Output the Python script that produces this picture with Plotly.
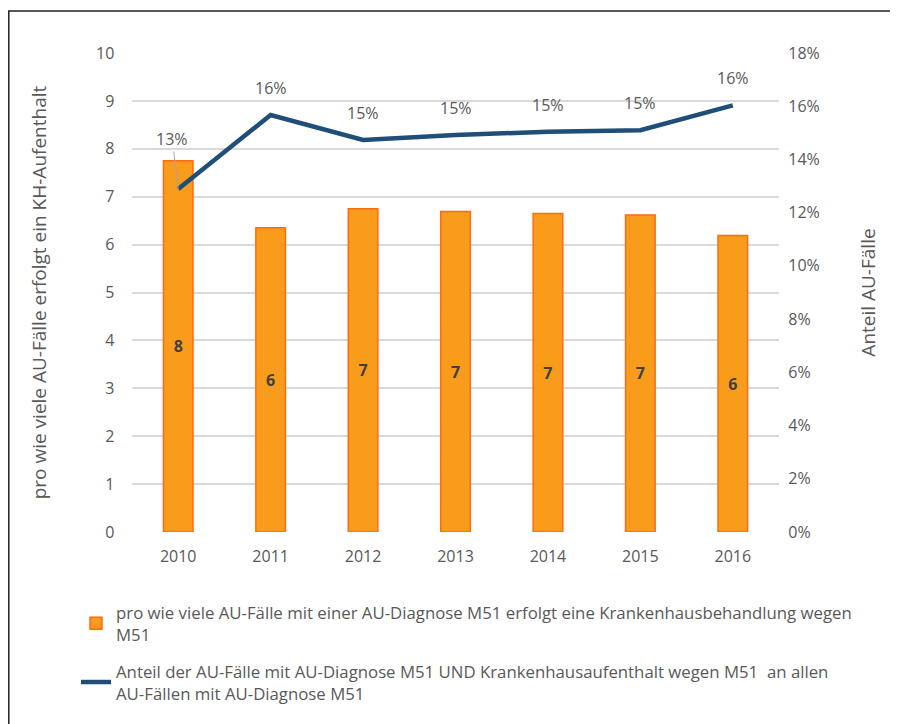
import plotly.graph_objects as go

years = ["2010", "2011", "2012", "2013", "2014", "2015", "2016"]
faelle_pro_kh = [7.75, 6.35, 6.75, 6.69, 6.65, 6.62, 6.19]
anteil_kh = [0.1289, 0.1567, 0.1473, 0.1492, 0.1504, 0.1510, 0.1603]

bar_name = "pro wie viele AU-Fälle mit einer AU-Diagnose M51 erfolgt eine Krankenhausbehandlung wegen<br>M51"
line_name = "Anteil der AU-Fälle mit AU-Diagnose M51 UND Krankenhausaufenthalt wegen M51  an allen<br>AU-Fällen mit AU-Diagnose M51"
y1_title = "pro wie viele AU-Fälle erfolgt ein KH-Aufenthalt"
y2_title = "Anteil AU-Fälle"

FONT = "Open Sans"
GREY = "#595959"
# page body has an 8px margin: the figure is shifted by (8, 8)
OFF = 8
W, H = 898 - OFF, 724 - OFF
L, R, T, B = 132 - OFF, 127 - OFF, 53 - OFF, 192
pw, ph = W - L - R, H - T - B

fig = go.Figure()
fig.add_trace(go.Bar(
    x=years, y=faelle_pro_kh, name=bar_name, legendgroup="bars",
    marker=dict(color="#F99C1C", line=dict(color="#FF6A13", width=1.5)),
    texttemplate="<b>%{y:.0f}</b>", textposition="inside", insidetextanchor="middle",
    textfont=dict(family=FONT, size=16, color="#404040"),
    yaxis="y",
))
fig.add_trace(go.Scatter(
    x=years, y=anteil_kh, name=line_name, mode="lines", legendgroup="line",
    line=dict(color="#1F4E79", width=4.5),
    yaxis="y2",
))

# line data labels (category index positions on the x axis)
for i, v in enumerate(anteil_kh):
    if i == 0:
        fig.add_annotation(x=i, y=v, xref="x", yref="y2", text=f"{v*100:.0f}%", showarrow=True,
                           arrowhead=0, arrowwidth=1, arrowcolor="#A6A6A6", ax=-6, ay=-50,
                           font=dict(family=FONT, size=16, color=GREY), standoff=0, startstandoff=0)
    else:
        fig.add_annotation(x=i, y=v, xref="x", yref="y2", text=f"{v*100:.0f}%", showarrow=False,
                           yshift=27, font=dict(family=FONT, size=16, color=GREY))

# outer chart border
fig.add_shape(type="rect", xref="paper", yref="paper",
              x0=(0.8 - L) / pw, x1=1.6, y0=-1.0, y1=(H - B - (11 - OFF)) / ph,
              line=dict(color="#222222", width=1.5), fillcolor="rgba(0,0,0,0)", layer="below")

fig.update_layout(
    width=W, height=H,
    margin=dict(l=L, r=R, t=T, b=B, autoexpand=False),
    paper_bgcolor="white", plot_bgcolor="white",
    font=dict(family=FONT, size=16, color=GREY),
    bargap=0.68,
    showlegend=True,
    legend=dict(x=(76 - OFF - L) / pw, y=(H - B - (595 - OFF)) / ph,
                xanchor="left", yanchor="top", orientation="v",
                font=dict(family=FONT, size=16.8, color=GREY),
                tracegroupgap=12, bgcolor="rgba(0,0,0,0)"),
    xaxis=dict(type="category", range=[-0.5, 6.5], autorange=False, showgrid=False,
               showline=False, ticks="", ticklabelstandoff=13,
               tickfont=dict(size=16, color=GREY)),
    yaxis=dict(range=[0, 10], autorange=False, dtick=1, showgrid=True, gridcolor="#D9D9D9",
               gridwidth=1.5, zeroline=False, showline=False, ticks="", ticksuffix="    ",
               tickfont=dict(size=16, color=GREY),
               title=dict(text=y1_title, font=dict(size=19, color=GREY), standoff=44)),
    yaxis2=dict(range=[0, 0.18], autorange=False, dtick=0.02, tickformat=".0%", overlaying="y",
                side="right", showgrid=False, zeroline=False, showline=False, ticks="",
                tickprefix="  ", tickfont=dict(size=16, color=GREY),
                title=dict(text=y2_title, font=dict(size=19, color=GREY), standoff=42)),
)

fig.write_html("out.html")
